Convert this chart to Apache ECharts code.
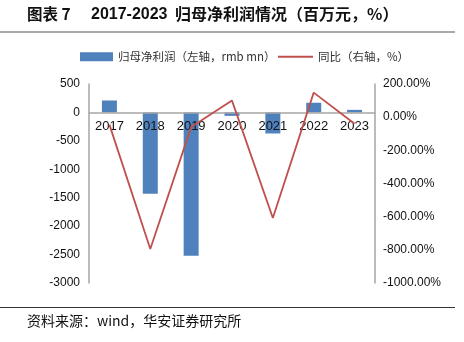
<!DOCTYPE html>
<html>
<head>
<meta charset="utf-8">
<script src="https://cdn.jsdelivr.net/npm/echarts@6/dist/echarts.min.js"></script>
<style>
  html, body { margin: 0; padding: 0; background: #fff; }
  #chart { width: 464px; height: 342px; }
</style>
</head>
<body>
<div id="chart"></div>
<script>
// Years on the category axis
const years = ['2017', '2018', '2019', '2020', '2021', '2022', '2023'];
// Net profit attributable to parent (rmb mn), left axis
const netProfit = [210, -1430, -2520, -60, -370, 170, 45];
// Year-over-year change (%), right axis
const yoy = [-45, -795, -60, 100, -608, 148, -40];

const barName = '归母净利润（左轴，rmb mn）';
const lineName = '同比（右轴，%）';

const chart = echarts.init(document.getElementById('chart'));

const cjk = '"Noto Sans CJK SC", sans-serif';
const latin = '"Liberation Sans", Arial, sans-serif';
const gridBottom = 59;

chart.setOption({
  animation: false,
  backgroundColor: '#fff',
  legend: [
    {
      top: 51, left: 80, padding: 0,
      itemWidth: 33, itemHeight: 9,
      textStyle: { fontFamily: cjk, fontSize: 11.5, color: '#333' },
      data: [{ name: barName, icon: 'rect' }]
    },
    {
      top: 51, left: 277, padding: 0,
      itemWidth: 35, itemHeight: 9,
      textStyle: { fontFamily: cjk, fontSize: 11.5, color: '#333' },
      data: [{ name: lineName, itemStyle: { opacity: 0 } }]
    }
  ],
  grid: { left: 89, right: 89, top: 84, bottom: gridBottom },
  xAxis: {
    type: 'category',
    data: years,
    boundaryGap: true,
    z: 10,
    axisLine: { onZero: false, lineStyle: { color: '#a6a6a6', width: 1.5 } },
    axisTick: { show: false },
    axisLabel: { fontFamily: latin, fontSize: 13, color: '#111', margin: 7 }
  },
  yAxis: [
    {
      type: 'value',
      min: -3000,
      max: 500,
      interval: 500,
      axisLine: { show: true, lineStyle: { color: '#a6a6a6', width: 1.5 } },
      axisTick: { show: false },
      splitLine: { show: false },
      axisLabel: { fontFamily: latin, fontSize: 12, color: '#111', margin: 9, formatter: v => String(v) }
    },
    {
      type: 'value',
      min: -1000,
      max: 200,
      interval: 200,
      position: 'right',
      axisLine: { show: true, lineStyle: { color: '#a6a6a6', width: 1.5 } },
      axisTick: { show: false },
      splitLine: { show: false },
      axisLabel: {
        fontFamily: latin, fontSize: 12, color: '#111', margin: 8,
        formatter: v => v.toFixed(2) + '%'
      }
    }
  ],
  series: [
    {
      name: barName,
      type: 'bar',
      yAxisIndex: 0,
      data: netProfit,
      barWidth: 15,
      itemStyle: { color: '#4f81bd' }
    },
    {
      name: lineName,
      type: 'line',
      yAxisIndex: 1,
      data: yoy,
      symbol: 'none',
      z: 12,
      lineStyle: { color: '#c0504d', width: 1.8 },
      itemStyle: { color: '#c0504d' }
    }
  ],
  graphic: [
    { type: 'text', left: 27, top: 6, style: { text: '图表 7', font: 'bold 15.5px ' + cjk, fill: '#111' } },
    { type: 'text', left: 91, top: 7, style: { text: '2017-2023', font: 'bold 16px ' + latin, fill: '#111' } },
    { type: 'text', left: 175, top: 6, style: { text: '归母净利润情况（百万元，%）', font: 'bold 16px ' + cjk, fill: '#111' } },
    { type: 'line', shape: { x1: 0, y1: 32, x2: 455, y2: 32 }, style: { stroke: '#8c8c8c', lineWidth: 1.5 } },
    { type: 'line', shape: { x1: 0, y1: 307.5, x2: 455, y2: 307.5 }, style: { stroke: '#333', lineWidth: 1.2 } },
    { type: 'text', left: 27, top: 314, style: { text: '资料来源：wind，华安证券研究所', font: '14px ' + cjk, fill: '#111' } }
  ]
});

// Move the category axis up to the left axis' zero line.
const zeroY = chart.convertToPixel({ yAxisIndex: 0 }, 0);
const bottomY = chart.getHeight() - gridBottom;
chart.setOption({ xAxis: { offset: zeroY - bottomY } });
</script>
</body>
</html>
